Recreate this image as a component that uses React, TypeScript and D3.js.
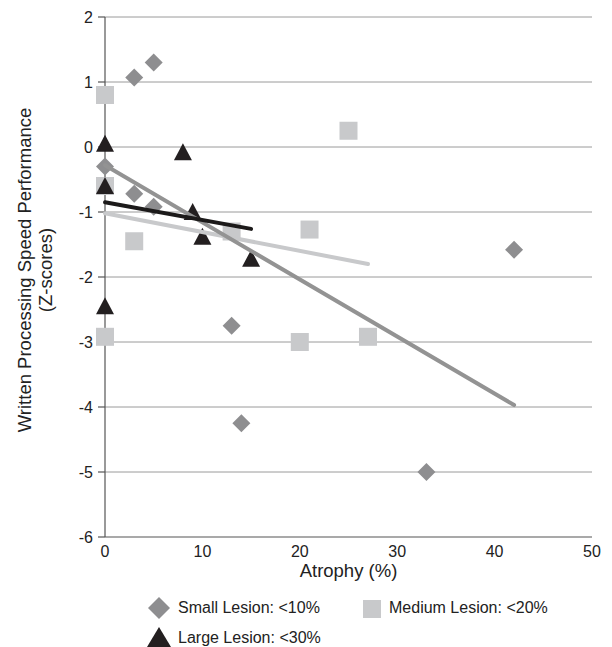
import React from "react";
import * as d3 from "d3";

// atrophy (%) and z-score for each lesion group
const smallX = [3, 5, 0, 3, 5, 13, 14, 33, 42];
const smallY = [1.07, 1.3, -0.3, -0.72, -0.92, -2.75, -4.25, -5.0, -1.58];
const mediumX = [0, 0, 3, 13, 0, 20, 21, 25, 27];
const mediumY = [0.8, -0.6, -1.45, -1.3, -2.92, -3.0, -1.27, 0.25, -2.92];
const largeX = [0, 0, 0, 8, 9, 10, 15];
const largeY = [0.05, -0.6, -2.45, -0.08, -1.0, -1.38, -1.72];

// trend line end points
const smallTrendX = [0, 42];
const smallTrendY = [-0.28, -3.97];
const mediumTrendX = [0, 27];
const mediumTrendY = [-1.02, -1.8];
const largeTrendX = [0, 15];
const largeTrendY = [-0.85, -1.26];

const xTicks = [0, 10, 20, 30, 40, 50];
const yTicks = [2, 1, 0, -1, -2, -3, -4, -5, -6];

const colSmall = "#8e8e90";
const colMedium = "#c8c9cb";
const colLarge = "#231f20";

const App = () => {
  const width = 612;
  const height = 647;
  const x = d3.scaleLinear().domain([0, 50]).range([105, 592]);
  const y = d3.scaleLinear().domain([-6, 2]).range([537, 17]);

  const zip = (xs: number[], ys: number[]) => xs.map((v, i) => [v, ys[i]] as [number, number]);
  const line = d3
    .line<[number, number]>()
    .x((d) => x(d[0]))
    .y((d) => y(d[1]));

  const diamond = (cx: number, cy: number, r = 9) =>
    `M${cx},${cy - r}L${cx + r},${cy}L${cx},${cy + r}L${cx - r},${cy}Z`;
  const triangle = (cx: number, cy: number) =>
    `M${cx},${cy - 9}L${cx + 9},${cy + 8}L${cx - 9},${cy + 8}Z`;

  const font = "Liberation Sans, Arial, Helvetica, sans-serif";
  const txt = "#222";

  return (
    <svg
      width={width}
      height={height}
      style={{ position: "absolute", left: 0, top: 0, background: "#fff" }}
      fontFamily={font}
    >
      {/* grid */}
      {yTicks.slice(0, -1).map((t) => (
        <line key={t} x1={x(0)} x2={x(50)} y1={y(t)} y2={y(t)} stroke="#9a9a9a" strokeWidth={1} />
      ))}
      {/* axes */}
      <line x1={x(0)} x2={x(50)} y1={y(-6)} y2={y(-6)} stroke="#555" strokeWidth={1.2} />
      <line x1={x(0)} x2={x(0)} y1={y(2)} y2={y(-6)} stroke="#555" strokeWidth={1.2} />
      {yTicks.map((t) => (
        <g key={t}>
          <line x1={x(0) - 7} x2={x(0)} y1={y(t)} y2={y(t)} stroke="#555" strokeWidth={1.2} />
          <text x={x(0) - 12} y={y(t)} dy="0.35em" textAnchor="end" fontSize={16} fill={txt}>
            {t}
          </text>
        </g>
      ))}
      {xTicks.map((t) => (
        <text key={t} x={x(t)} y={y(-6) + 20} textAnchor="middle" fontSize={16} fill={txt}>
          {t}
        </text>
      ))}
      <text x={(x(0) + x(50)) / 2} y={577} textAnchor="middle" fontSize={18.5} fill={txt}>
        Atrophy (%)
      </text>
      <g transform="translate(31, 270) rotate(-90)">
        <text x={0} y={0} textAnchor="middle" fontSize={18.5} fill={txt}>
          Written Processing Speed Performance
        </text>
        <text x={0} y={21} textAnchor="middle" fontSize={18.5} fill={txt}>
          (Z-scores)
        </text>
      </g>

      {/* markers */}
      {zip(smallX, smallY).map((d, i) => (
        <path key={"s" + i} d={diamond(x(d[0]), y(d[1]))} fill={colSmall} />
      ))}
      {zip(mediumX, mediumY).map((d, i) => (
        <rect key={"m" + i} x={x(d[0]) - 9} y={y(d[1]) - 9} width={18} height={18} fill={colMedium} />
      ))}
      {zip(largeX, largeY).map((d, i) => (
        <path key={"l" + i} d={triangle(x(d[0]), y(d[1]))} fill={colLarge} />
      ))}

      {/* trend lines */}
      <path d={line(zip(mediumTrendX, mediumTrendY)) || ""} stroke={colMedium} strokeWidth={4} strokeLinecap="round" fill="none" />
      <path d={line(zip(smallTrendX, smallTrendY)) || ""} stroke="#939393" strokeWidth={4} strokeLinecap="round" fill="none" />
      <path d={line(zip(largeTrendX, largeTrendY)) || ""} stroke="#1c1a1a" strokeWidth={4} strokeLinecap="round" fill="none" />

      {/* legend */}
      <path d={diamond(159, 608, 11)} fill={colSmall} />
      <text x={178} y={613} fontSize={16} fill={txt}>Small Lesion: &lt;10%</text>
      <rect x={363} y={600} width={18} height={18} fill={colMedium} />
      <text x={389} y={613} fontSize={16} fill={txt}>Medium Lesion: &lt;20%</text>
      <path d="M159,627L171,647L147,647Z" fill={colLarge} />
      <text x={178} y={643} fontSize={16} fill={txt}>Large Lesion: &lt;30%</text>
    </svg>
  );
};

export default App;
